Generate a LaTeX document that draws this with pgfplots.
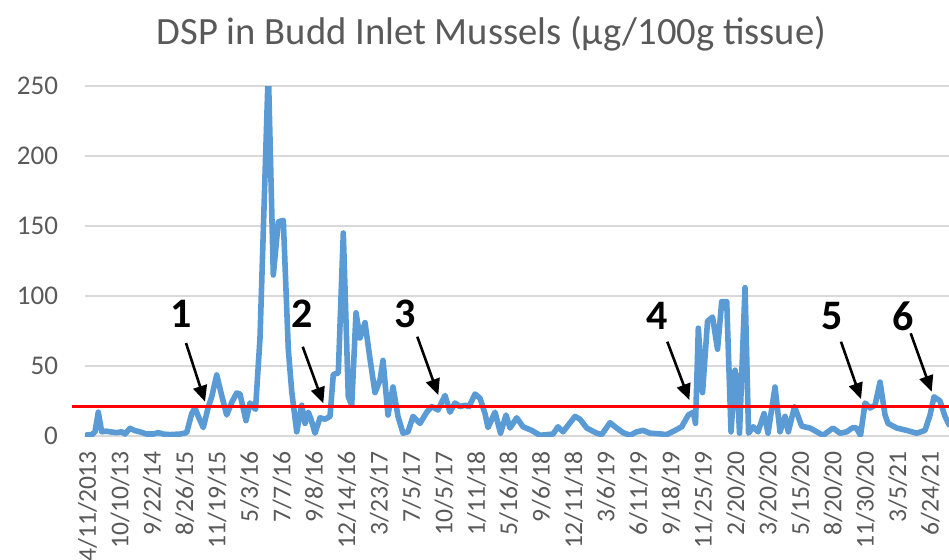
\documentclass[border=0pt]{standalone}
\usepackage{pgfplots}
\pgfplotsset{compat=1.18}
\usepackage{pgfplotstable}
\usepackage{fontspec}
\setmainfont{Carlito}
\usetikzlibrary{arrows.meta}
\definecolor{excelblue}{HTML}{5B9BD5}
\definecolor{txtgray}{HTML}{595959}
\definecolor{gridgray}{HTML}{D9D9D9}

\pgfplotstableread{
px val
86.7 0.7
92 1
95 3
98.3 17
101.7 3
106 3.5
110 3
116.7 2.4
121.7 3
125 1.4
130 5.5
135 3.8
140 3
146.7 1.4
153.3 1.4
158.3 2.4
163.3 1.4
170 1
180 1.4
186.7 2.4
191.7 16
195 20
198.3 14
203.3 6
208 20
211.7 28
216.7 43.6
221.7 29
226.7 15
231.7 24
236.7 30.7
240 30
246 11
250 23.6
255.5 19
260 70
268.3 262
273.3 115
278.3 153
283.3 154
288.3 62
291.7 32
296.7 3
301.7 22
305 9
308.3 17
311 12
315 2
320 13
325 12
330 14
333.3 44
338.3 45
343.3 145
348.3 28
351.7 22
356 88
360 70
365 81
370 55
375 31
380 40
383 54
388 15
393 35
398 14
403 2
408 3
413 14
420 9
426.7 17
431.7 21
438 18.6
445 29
450 17
455 23.6
460 21
465 22
469 21
475 30
480 27
485 16
488 6
495 17
500.5 2
506 15
510 5.7
516.7 13
523 6.6
531.7 4
540 0.5
546.7 1
553 1.4
558 6.6
563 3
575 14
580 12
586.7 5.7
596.7 2
601.7 1
610 9.5
615 6.6
623 2.4
630 0.5
636.7 3
643 4
650 2
660 1.5
666.7 1
675 4
681.7 6.6
688.3 15
693.3 17
695.5 9
698.3 77
702.5 31
707.5 82
712.5 85
717.5 62
721.7 96
726.7 96
731 3
735 47
737 40
739.5 2
745 106
748.5 2
753.3 6.6
758 3
764 16
768 2
775 35
780 3
785 14
788.3 3
794.5 21
801.7 7
810 5.7
816.7 3
823 0.5
833 5.7
840 2
846.7 3
852 5.7
856 6
860.5 0.5
865 23.6
870 20
875 22
880 38.5
885 15
888 9
896.7 5.7
906.7 4
916.7 2
925 4
930 15
934 28
940 25
945 14
949 8
}\dsp

\begin{document}
\begin{tikzpicture}
\begin{axis}[
  at={(0pt,0pt)}, anchor=south west,
  scale only axis, width=432pt, height=175pt,
  xmin=-0.077, xmax=26.58, ymin=0, ymax=250,
  ytick={0,50,...,250},
  xtick={0,...,26},
  xticklabels={4/11/2013,10/10/13,9/22/14,8/26/15,11/19/15,5/3/16,7/7/16,9/8/16,12/14/16,3/23/17,7/5/17,10/5/17,1/11/18,5/16/18,9/6/18,12/11/18,3/6/19,6/11/19,9/18/19,11/25/19,2/20/20,3/20/20,5/15/20,8/20/20,11/30/20,3/5/21,6/24/21},
  axis line style={draw=none},
  tick style={draw=none},
  major tick length=0pt,
  ymajorgrids,
  grid style={gridgray, line width=0.75pt},
  clip mode=individual,
  /pgf/number format/assume math mode=true,
  yticklabel style={font=\fontsize{13.5}{15}\selectfont, color=txtgray, anchor=east},
  yticklabel shift=10pt,
  xticklabel style={font=\fontsize{12.8}{14}\selectfont, color=txtgray, rotate=90, anchor=east},
  xticklabel shift=4pt,
]
\addplot[excelblue, line width=2.8pt, line join=round, line cap=round]
  table[x expr=(\thisrow{px}-87.5)/32.41, y=val] {\dsp};
\draw[red, line width=1.5pt] (axis cs:-0.478,21) -- (axis cs:26.58,21);
\end{axis}
\begin{scope}[shift={(-42.5pt,-61.5pt)}, x=0.5pt, y=0.5pt]
\node[anchor=base, color=txtgray, font=\fontsize{19.3}{22}\selectfont] at (491.5,515) {DSP in Budd Inlet Mussels (µg/100g tissue)};
\begin{scope}[font=\fontsize{21}{24}\selectfont\bfseries]
\node at (181,245.5) {1};
\node at (301.7,245) {2};
\node at (405,245) {3};
\node at (657.5,243.5) {4};
\node at (831.7,242.5) {5};
\node at (903,242.5) {6};
\end{scope}
\begin{scope}[line width=1.3pt, -{Triangle[length=8pt,width=7pt]}]
\draw (186,216) -- (205,157.3);
\draw (302.7,212.3) -- (323.3,155.7);
\draw (417.3,222.3) -- (438.3,164);
\draw (667.3,217.3) -- (689.3,159);
\draw (841,217.3) -- (861,160);
\draw (910.7,225.7) -- (931.7,167.3);
\end{scope}
\pgfresetboundingbox
\path[use as bounding box] (0,0) rectangle (949,559);
\end{scope}
\end{tikzpicture}
\end{document}
